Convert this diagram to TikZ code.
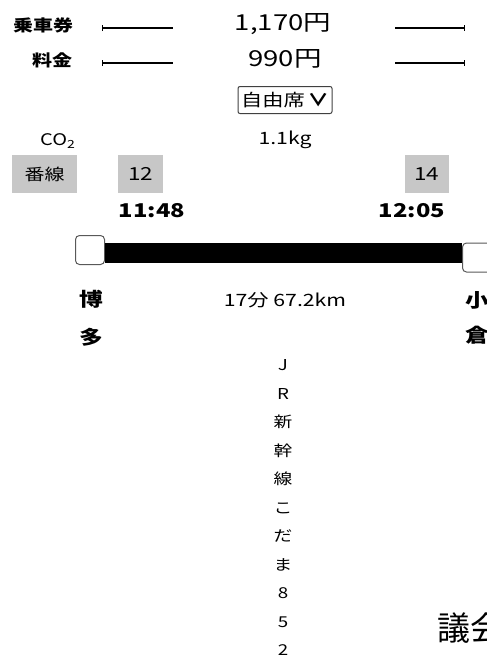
\documentclass[tikz,border=0pt]{standalone}
\usepackage{fontspec}
\newfontfamily\jp[FakeStretch=1.25]{Noto Sans CJK JP}
\newfontfamily\jpplain{Noto Sans CJK JP}
\newcommand\pxsize[1]{\fontsize{#1}{#1}\selectfont}
\usetikzlibrary{arrows.meta}

\begin{document}
\begin{tikzpicture}[x=1pt, y=-1pt, inner sep=0pt,
        every node/.append style={font=\jp\pxsize{17}}]
      \tikzstyle{rowname} = [font=\jp\pxsize{16}\bfseries, anchor=west]
      \tikzstyle{price} = [font=\jp\pxsize{22}]
      \tikzstyle{platebox} = [fill=black!22, minimum height=38pt, font=\jp\pxsize{18}]
      \tikzstyle{clock} = [font=\jp\pxsize{19}\bfseries]
      \tikzstyle{stopbox} = [draw=black!65, fill=white, line width=1pt, rounded corners=4pt, minimum size=29pt]
      \tikzstyle{station} = [font=\jp\pxsize{19}\bfseries, align=center]
      \tikzstyle{leftline} = [{Bar[width=6pt]}-, line width=1.1pt]
      \tikzstyle{rightline} = [-{Bar[width=6pt]}, line width=1.1pt]
      \useasboundingbox (0,0) rectangle (487,656);
      % prices
      \node (ticket) [rowname] at (13,25) {乗車券};
      \node (fare) [rowname] at (32,60) {料金};
      \node (ticketprice) [price] at (283,24) {1,170円};
      \node (fareprice) [price] at (285,59) {990円};
      \coordinate (ticketA) at (102,28);
      \coordinate (ticketB) at (173,28);
      \coordinate (ticketC) at (395,28);
      \coordinate (ticketD) at (465,28);
      \coordinate (fareA) at (102,63);
      \coordinate (fareB) at (173,63);
      \coordinate (fareC) at (395,63);
      \coordinate (fareD) at (465,63);
      \draw[leftline] (ticketA) -- (ticketB);
      \draw[rightline] (ticketC) -- (ticketD);
      \draw[leftline] (fareA) -- (fareB);
      \draw[rightline] (fareC) -- (fareD);
      \node (seat) [draw=black!75, line width=1pt, rounded corners=2pt, minimum width=94pt,
        minimum height=27pt, font=\jp\pxsize{17}] at (285,100) {自由席\,\textbf{∨}};
      % co2 and platforms
      \node (co2) [anchor=west, font=\jp\pxsize{16}] at (40,141) {CO\textsubscript{2}};
      \node (co2val) at (285,140) {1.1kg};
      \node (track) [platebox, minimum width=65pt, font=\jp\pxsize{16}] at (44.5,174) {番線};
      \node (deptrack) [platebox, minimum width=45pt] at (140.5,174) {12};
      \node (arrtrack) [platebox, minimum width=44pt] at (426.5,174) {14};
      \node (dep) [clock] at (152,211) {11:48};
      \node (arr) [clock] at (412,211) {12:05};
      % route bar
      \node (depstop) [stopbox] at (90,250) {};
      \node (arrstop) [stopbox, anchor=west] at (462,257.5) {};
      \draw[line width=20pt] ([yshift=-3pt]depstop.east) -- ([yshift=4.5pt]arrstop.west);
      \node (hakata) [station, font=\jp\fontsize{19}{38}\selectfont\bfseries] at (91.5,318) {博\\多};
      \node (kokura) [station, anchor=west, font=\jp\fontsize{19}{35}\selectfont\bfseries] at (465,317.5) {小\\倉};
      \node (trip) at (285,300) {17分 67.2km};
      % train name
      \node (train) [align=center, font=\jp\fontsize{15}{28.5}\selectfont] at (283,507.5)
        {J\\R\\新\\幹\\線\\こ\\だ\\ま\\8\\5\\2};
      \node (assembly) [anchor=west, font=\jpplain\pxsize{33}] at (437,628) {議会};
    \end{tikzpicture}
\end{document}
